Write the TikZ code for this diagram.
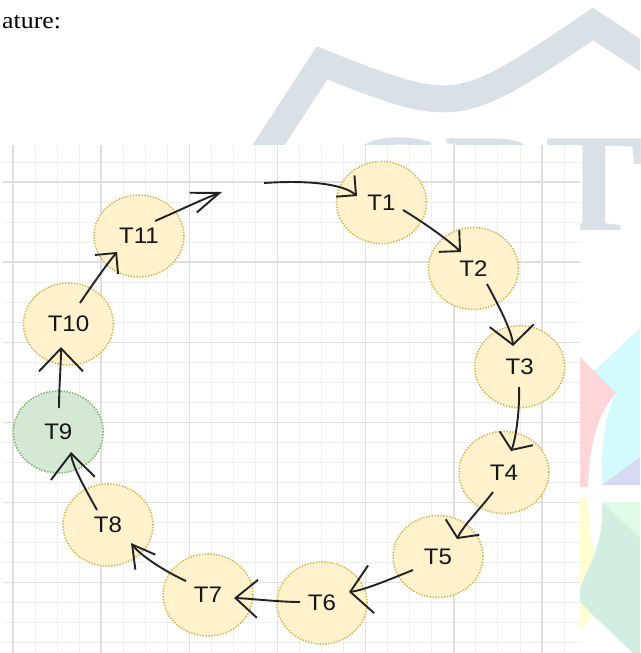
\documentclass[tikz,border=0pt]{standalone}
\usepackage{fontspec}
\usepackage{graphicx}
\setmainfont{Liberation Serif}
\newfontfamily\labelfont{Liberation Sans}
\usetikzlibrary{arrows.meta,shapes.geometric,calc}

\definecolor{gridminor}{HTML}{EFEFEF}
\definecolor{gridmajor}{HTML}{DFDFDF}
\definecolor{taskfill}{HTML}{FFF2CC}
\definecolor{taskline}{HTML}{D6B656}
\definecolor{donefill}{HTML}{D5E8D4}
\definecolor{doneline}{HTML}{82B366}
\definecolor{labeltext}{HTML}{151515}
\definecolor{linkcolor}{HTML}{222222}
\definecolor{wmgray}{HTML}{DAE1E6}
\definecolor{logocyan}{HTML}{D3FAFC}
\definecolor{logopink}{HTML}{FFD6D9}
\definecolor{logolav}{HTML}{D6DAF3}
\definecolor{logolime}{HTML}{E1FAE7}
\definecolor{logomint}{HTML}{D2EEE1}
\definecolor{logoyellow}{HTML}{FFFFD4}

\newcommand{\tasklabel}[1]{\scalebox{1.07}[1]{#1}}

\begin{document}
\begin{tikzpicture}[x=1pt, y=-1pt,
  task/.style={ellipse, minimum width=90pt, minimum height=82pt, inner sep=0pt,
    draw=taskline, fill=taskfill, line width=1.6pt, dash pattern=on 1.4pt off 1.5pt,
    text=labeltext, font=\labelfont\fontsize{22.5}{26}\selectfont},
  done/.style={task, draw=doneline, fill=donefill},
  link/.style={draw=linkcolor, line width=1.9pt},
  barb/.style 2 args={arrows={-{Straight Barb[length=#1pt,width=#2pt]}}},
  minorline/.style={draw=gridminor, line width=1pt},
  majorline/.style={draw=gridmajor, line width=1.4pt},
  wmark/.style={draw=wmgray, line width=27pt, line join=miter},
  wmletters/.style={text=wmgray, inner sep=0pt, font=\fontsize{140}{140}\selectfont\bfseries}
]
\useasboundingbox (0,0) rectangle (640,653);
\clip (0,0) rectangle (640,653);

% watermark: arc band, letters and coloured logo
\draw[wmark] (249,175) -- (322,63) .. controls (457,116) .. (593,24) -- (690,88);
\node[wmletters, anchor=base east] (wmtext) at (644,230) {\scalebox{1.05}[1]{CRT}};
\fill[logocyan] (640,328) -- (593,372) -- (616,393) .. controls (604,415) and (601,450) .. (602,485) -- (640,457) -- cycle;
\fill[logopink] (580,357) -- (616,393) .. controls (596,415) and (589,450) .. (588,487) -- (580,487) -- cycle;
\fill[logolav] (602,485) -- (640,457) -- (640,485) -- cycle;
\fill[logolime] (602,502) -- (640,502) -- (640,538) -- cycle;
\fill[logomint] (602,502) -- (640,538) -- (640,653) -- (633,653) -- (580,603) -- (580,587) -- (595,553) .. controls (601,535) and (603,520) .. (602,502) -- cycle;
\fill[logoyellow] (580,497) -- (588,497) .. controls (589,525) and (591,540) .. (595,553) -- (580,587) -- cycle;
\fill[logoyellow] (580,602) -- (593,615) -- (580,630) -- cycle;

% text line above the figure
\node[anchor=base west, inner sep=0pt, font=\fontsize{23.5}{27}\selectfont] (caption) at (2,28) {\scalebox{1.1}[1]{ature:}};

% grid canvas
\fill[white] (3,145) rectangle (580,653);
\begin{scope}
  \clip (3,145) rectangle (580,653);
  \foreach \i in {0,...,25} {
    \draw[minorline] ({13+22.045*\i},145) -- ({13+22.045*\i},653);
  }
  \foreach \j in {0,...,24} {
    \draw[minorline] (3,{162+20.03*\j}) -- (580,{162+20.03*\j});
  }
  \foreach \i in {0,...,6} {
    \draw[majorline] ({13+88.18*\i},145) -- ({13+88.18*\i},653);
  }
  \foreach \j in {0,...,5} {
    \draw[majorline] (3,{182+80.12*\j}) -- (580,{182+80.12*\j});
  }
\end{scope}

% task nodes
\node[task] (T1)  at (381.5,202.5) {\tasklabel{T1}};
\node[task] (T2)  at (473.5,268.5) {\tasklabel{T2}};
\node[task] (T3)  at (519.7,366.7) {\tasklabel{T3}};
\node[task] (T4)  at (504,472.5)   {\tasklabel{T4}};
\node[task] (T5)  at (438,556.5)   {\tasklabel{T5}};
\node[task] (T6)  at (322,603)     {\tasklabel{T6}};
\node[task] (T7)  at (208,595)     {\tasklabel{T7}};
\node[task] (T8)  at (108,525)     {\tasklabel{T8}};
\node[done] (T9)  at (58.3,432)    {\tasklabel{T9}};
\node[task] (T10) at (68.5,324)    {\tasklabel{T10}};
\node[task] (T11) at (139,236)     {\tasklabel{T11}};

% open ends of the broken link between T11 and T1
\coordinate (gapend)   at (222,192);
\coordinate (gapstart) at (264,183);

% links
\draw[link, barb={28}{21}] ($(T11)+(16,-15)$) .. controls +(22,-9.5) and +(-19,7) .. (gapend);
\draw[link, barb={14}{28}] (gapstart) .. controls +(45,-3) and +(-14,-12) .. ($(T1)+(-24.5,-6.5)$);
\draw[link, barb={15}{30}] ($(T1)+(21.5,7.5)$) .. controls +(20,12) and +(-14,-13) .. ($(T2)+(-12.5,-16.5)$);
\draw[link, barb={19}{44}] ($(T2)+(13.5,15.5)$) .. controls +(8,15) and +(-1,-16) .. ($(T3)+(-6.7,-20.7)$);
\draw[link, barb={12.6}{36}] ($(T3)+(-0.7,20.3)$) .. controls +(1,20) and +(5,-12) .. ($(T4)+(7,-21.5)$);
\draw[link, barb={12}{37}] ($(T4)+(-11,19.5)$) .. controls +(-12,16) and +(6,-13) .. ($(T5)+(19,-17.5)$);
\draw[link, barb={21}{48}] ($(T5)+(-25,13.5)$) .. controls +(-20,8) and +(16,-2) .. ($(T6)+(27,-11)$);
\draw[link, barb={22}{38}] ($(T6)+(-22,-1)$) .. controls +(-20,0) and +(15,0.5) .. ($(T7)+(26,3)$);
\draw[link, barb={22}{25}] ($(T7)+(-22,-14)$) .. controls +(-22,-10) and +(9,12) .. ($(T8)+(23,18)$);
\draw[link, barb={25}{44}] ($(T8)+(-11,-15)$) .. controls +(-10,-18) and +(1,14) .. ($(T9)+(12.7,20)$);
\draw[link, barb={23}{44}] ($(T9)+(0.7,-24)$) .. controls +(0,-20) and +(0,18) .. ($(T10)+(-7.5,23)$);
\draw[link, barb={15}{30}] ($(T10)+(11.5,-21)$) .. controls +(10,-15) and +(-10,12) .. ($(T11)+(-22,16)$);
\end{tikzpicture}
\end{document}
